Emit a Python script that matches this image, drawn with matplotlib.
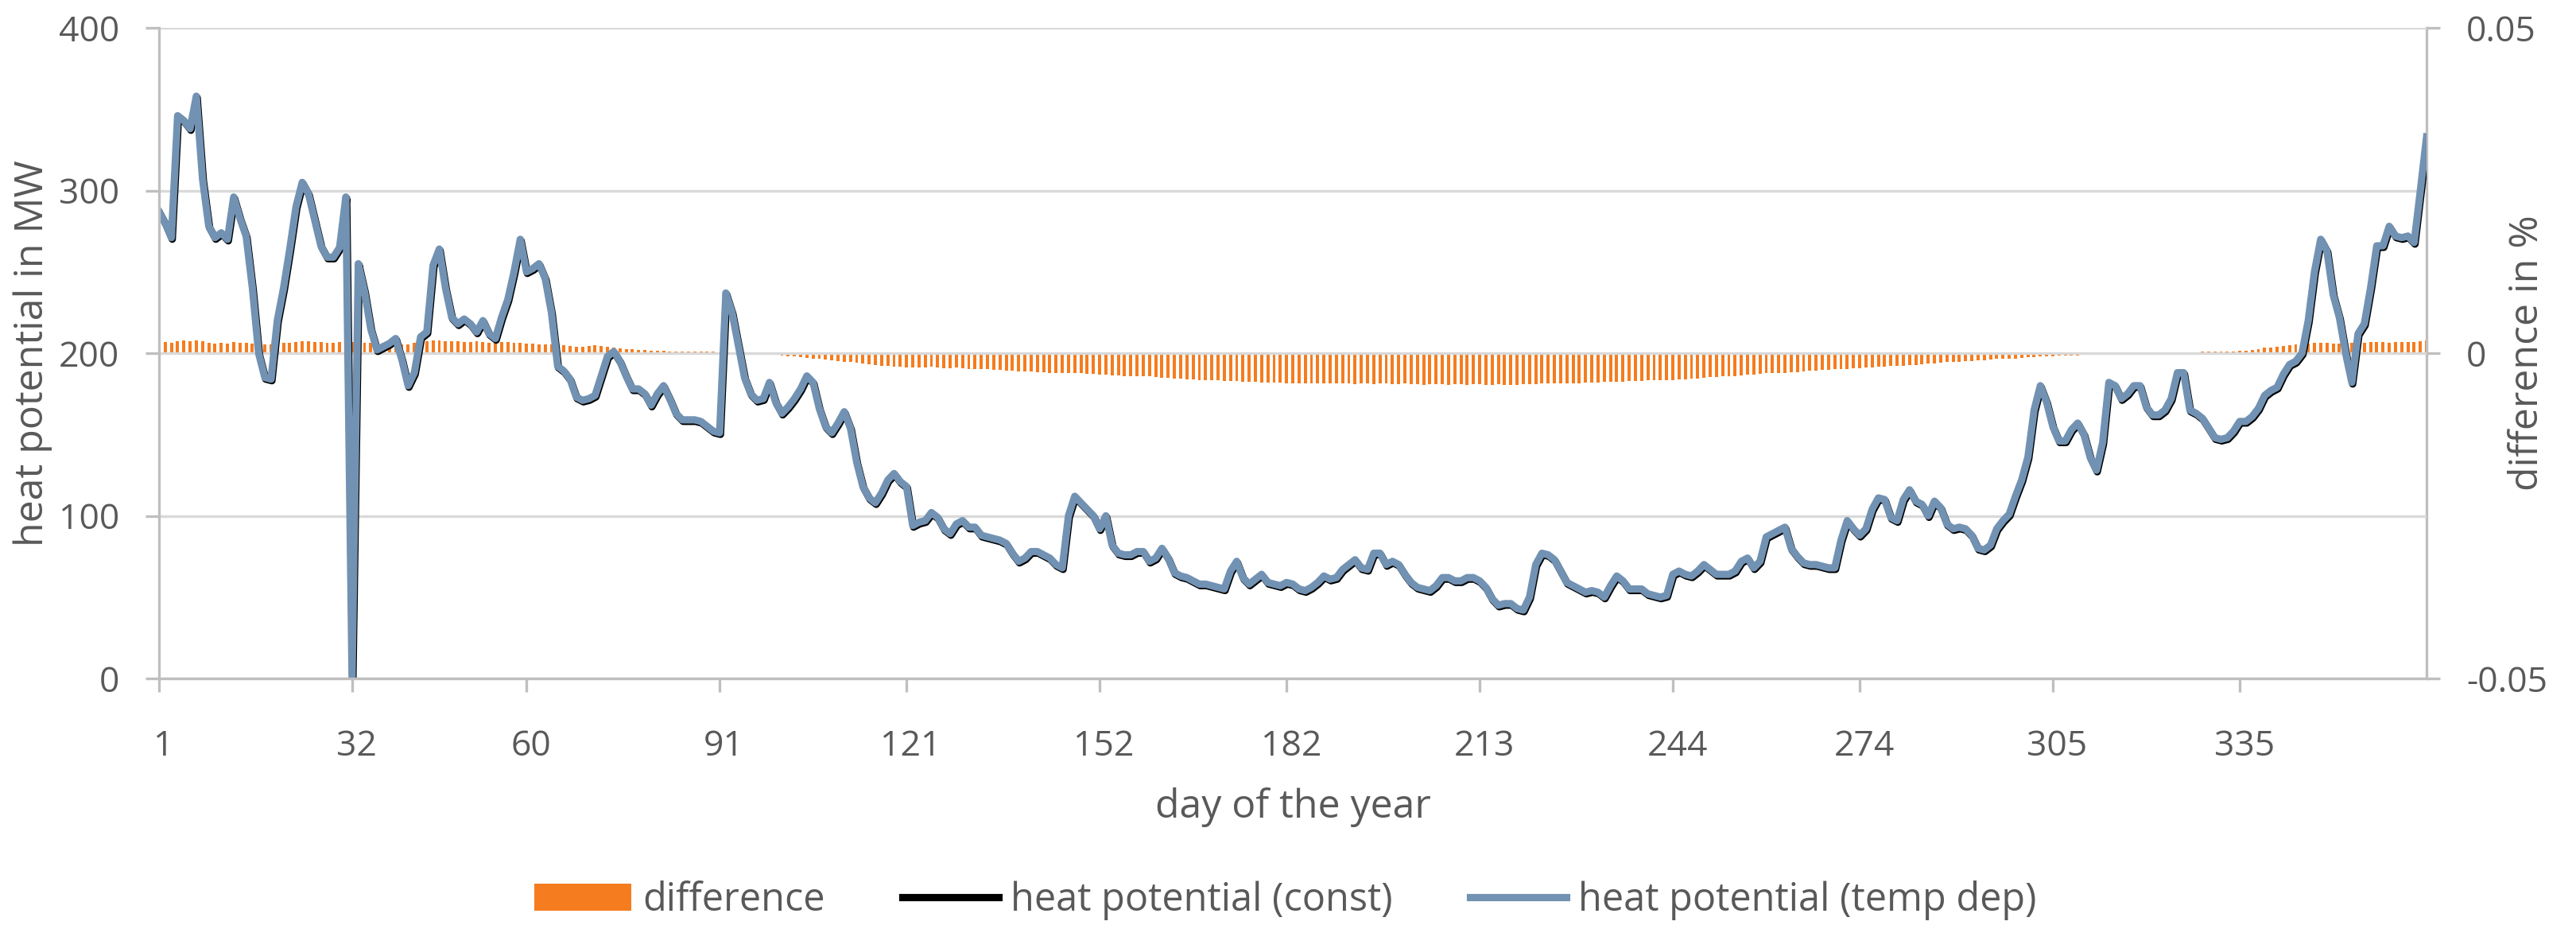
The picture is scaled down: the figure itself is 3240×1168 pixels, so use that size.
import matplotlib
matplotlib.use("Agg")
import matplotlib.pyplot as plt
from matplotlib.transforms import offset_copy, ScaledTranslation

# heat potential (temp dep) in MW
heat_jan = [287, 280, 271, 346, 343, 338, 358, 307, 278, 271, 274, 270, 296, 283, 272, 240,
            200, 185, 184, 220, 240, 264, 290, 305, 298, 282, 266, 259, 259, 265, 296]
heat_feb = [0, 255, 238, 215, 202, 204, 206, 209, 196, 180, 188, 210, 213, 254, 264, 240,
            222, 218, 221, 218, 213, 220, 212, 209, 222, 233, 250, 270]
heat_mar = [250, 252, 255, 246, 225, 192, 189, 184, 173, 171, 172, 174, 186, 198, 201, 195,
            186, 178, 178, 175, 168, 175, 180, 172, 163, 159, 159, 159, 158, 155, 152]
heat_apr = [151, 237, 225, 205, 185, 175, 171, 172, 182, 170, 163, 167, 172, 178, 186, 182,
            166, 155, 151, 157, 164, 154, 133, 118, 111, 108, 114, 122, 126, 121]
heat_may = [118, 94, 96, 97, 102, 99, 92, 89, 95, 97, 93, 93, 88, 87, 86, 85,
            83, 77, 72, 74, 78, 78, 76, 74, 70, 68, 100, 112, 108, 104, 100]
heat_jun = [92, 100, 82, 77, 76, 76, 78, 78, 72, 74, 80, 74, 65, 63, 62, 60,
            58, 58, 57, 56, 55, 66, 72, 62, 58, 61, 64, 59, 58, 57]
heat_jul = [59, 58, 55, 54, 56, 59, 63, 61, 62, 67, 70, 73, 68, 67, 77, 77,
            70, 72, 70, 64, 59, 56, 55, 54, 57, 62, 62, 60, 60, 62, 62]
heat_aug = [60, 56, 49, 45, 46, 46, 43, 42, 50, 70, 77, 76, 73, 66, 59, 57,
            55, 53, 54, 53, 50, 57, 63, 60, 55, 55, 55, 52, 51, 50, 51]
heat_sep = [64, 66, 64, 63, 66, 70, 67, 64, 64, 64, 66, 72, 74, 68, 72, 87,
            89, 91, 93, 80, 75, 71, 70, 70, 69, 68, 68, 85, 97, 92]
heat_oct = [88, 92, 104, 111, 110, 99, 97, 110, 116, 109, 107, 100, 109, 105, 95, 92,
            93, 92, 88, 80, 79, 82, 92, 97, 101, 112, 122, 136, 165, 180, 170]
heat_nov = [155, 146, 146, 153, 157, 150, 136, 128, 145, 182, 180, 172, 175, 180, 180, 167,
            162, 162, 165, 172, 188, 188, 165, 163, 160, 154, 148, 147, 148, 152]
heat_dec = [158, 158, 161, 166, 174, 177, 179, 187, 193, 195, 200, 220, 250, 270, 263, 236,
            222, 200, 182, 212, 218, 240, 266, 266, 278, 272, 271, 272, 268, 300, 333]

# difference in %
diff_jan = [0.0016, 0.0017, 0.0016, 0.0018, 0.0019, 0.0018, 0.0019, 0.0018, 0.0016, 0.0015,
            0.0016, 0.0015, 0.0017, 0.0016, 0.0016, 0.0015, 0.0014, 0.0013, 0.0014, 0.0015,
            0.0016, 0.0016, 0.0017, 0.0018, 0.0018, 0.0017, 0.0017, 0.0016, 0.0016, 0.0017, 0.0018]
diff_feb = [0.0017, 0.0017, 0.0016, 0.0016, 0.0015, 0.0016, 0.0016, 0.0015, 0.0014, 0.0014,
            0.0016, 0.0017, 0.0018, 0.0019, 0.0019, 0.0018, 0.0018, 0.0018, 0.0017, 0.0017,
            0.0018, 0.0017, 0.0016, 0.0016, 0.0017, 0.0017, 0.0016, 0.0016]
diff_mar = [0.0015, 0.0015, 0.0014, 0.0014, 0.0013, 0.0012, 0.0012, 0.0011, 0.0010, 0.0010,
            0.0011, 0.0012, 0.0011, 0.0010, 0.0008, 0.0007, 0.0006, 0.0006, 0.0005, 0.0005,
            0.0004, 0.0004, 0.0004, 0.0003, 0.0003, 0.0003, 0.0003, 0.0002, 0.0002, 0.0002, 0.0002]
diff_apr = [0.0001, 0.0001, 0.0000, 0.0000, -0.0001, -0.0001, -0.0002, -0.0002, -0.0003, -0.0003,
            -0.0004, -0.0005, -0.0005, -0.0006, -0.0007, -0.0008, -0.0009, -0.0010, -0.0011, -0.0012,
            -0.0013, -0.0014, -0.0015, -0.0016, -0.0017, -0.0018, -0.0019, -0.0020, -0.0021, -0.0021]
diff_may = [-0.0022, -0.0022, -0.0022, -0.0022, -0.0021, -0.0022, -0.0023, -0.0023, -0.0022, -0.0023,
            -0.0024, -0.0024, -0.0025, -0.0025, -0.0026, -0.0026, -0.0027, -0.0027, -0.0028, -0.0028,
            -0.0028, -0.0029, -0.0029, -0.0030, -0.0030, -0.0030, -0.0030, -0.0031, -0.0031, -0.0032, -0.0032]
diff_jun = [-0.0033, -0.0033, -0.0034, -0.0034, -0.0035, -0.0035, -0.0035, -0.0036, -0.0036, -0.0037,
            -0.0038, -0.0038, -0.0039, -0.0039, -0.0040, -0.0040, -0.0041, -0.0041, -0.0042, -0.0042,
            -0.0043, -0.0043, -0.0043, -0.0044, -0.0044, -0.0044, -0.0045, -0.0045, -0.0045, -0.0045]
diff_jul = [-0.0046, -0.0046, -0.0046, -0.0046, -0.0047, -0.0046, -0.0047, -0.0047, -0.0047, -0.0046,
            -0.0047, -0.0048, -0.0047, -0.0047, -0.0048, -0.0047, -0.0047, -0.0048, -0.0048, -0.0047,
            -0.0048, -0.0048, -0.0049, -0.0048, -0.0048, -0.0048, -0.0049, -0.0048, -0.0048, -0.0049, -0.0048]
diff_aug = [-0.0048, -0.0049, -0.0049, -0.0048, -0.0049, -0.0049, -0.0049, -0.0048, -0.0048, -0.0048,
            -0.0047, -0.0047, -0.0047, -0.0046, -0.0046, -0.0046, -0.0046, -0.0045, -0.0045, -0.0045,
            -0.0044, -0.0044, -0.0044, -0.0044, -0.0043, -0.0043, -0.0043, -0.0042, -0.0042, -0.0042, -0.0041]
diff_sep = [-0.0041, -0.0040, -0.0040, -0.0039, -0.0039, -0.0038, -0.0037, -0.0037, -0.0036, -0.0035,
            -0.0035, -0.0034, -0.0033, -0.0033, -0.0032, -0.0031, -0.0031, -0.0030, -0.0030, -0.0029,
            -0.0029, -0.0028, -0.0027, -0.0027, -0.0026, -0.0026, -0.0025, -0.0025, -0.0024, -0.0023]
diff_oct = [-0.0023, -0.0022, -0.0022, -0.0021, -0.0021, -0.0020, -0.0020, -0.0019, -0.0018, -0.0018,
            -0.0017, -0.0016, -0.0016, -0.0015, -0.0014, -0.0014, -0.0013, -0.0012, -0.0012, -0.0011,
            -0.0011, -0.0010, -0.0009, -0.0009, -0.0008, -0.0008, -0.0007, -0.0006, -0.0006, -0.0005, -0.0005]
diff_nov = [-0.0005, -0.0004, -0.0004, -0.0004, -0.0004, -0.0003, -0.0003, -0.0003, -0.0003, -0.0002,
            -0.0002, -0.0002, -0.0002, -0.0001, -0.0001, -0.0001, -0.0001, 0.0000, 0.0000, 0.0000,
            0.0001, 0.0001, 0.0001, 0.0001, 0.0002, 0.0002, 0.0002, 0.0003, 0.0003, 0.0003]
diff_dec = [0.0004, 0.0004, 0.0005, 0.0006, 0.0008, 0.0009, 0.0010, 0.0011, 0.0012, 0.0013,
            0.0014, 0.0015, 0.0016, 0.0016, 0.0016, 0.0015, 0.0015, 0.0016, 0.0016, 0.0017,
            0.0016, 0.0017, 0.0017, 0.0017, 0.0016, 0.0017, 0.0017, 0.0017, 0.0017, 0.0018, 0.0020]

heat_temp = (heat_jan + heat_feb + heat_mar + heat_apr + heat_may + heat_jun +
             heat_jul + heat_aug + heat_sep + heat_oct + heat_nov + heat_dec)
# the const curve sits right under the temp dep curve, they can't be told apart
heat_const = list(heat_temp)
difference = (diff_jan + diff_feb + diff_mar + diff_apr + diff_may + diff_jun +
              diff_jul + diff_aug + diff_sep + diff_oct + diff_nov + diff_dec)
days = list(range(1, len(heat_temp) + 1))

month_ticks = [1, 32, 60, 91, 121, 152, 182, 213, 244, 274, 305, 335]

text_col = "#595959"
axis_col = "#BFBFBF"
orange = "#F57C1F"
blue = "#7292B3"

plt.rcParams["font.family"] = ["Open Sans", "DejaVu Sans"]

fig = plt.figure(figsize=(16.2, 5.84), dpi=200)
ax = fig.add_axes([0.0617, 0.2697, 0.8803, 0.7003])
ax2 = ax.twinx()

# bars on the right axis
bars = ax2.bar(days, difference, width=0.5, color=orange, linewidth=0, label="difference")
ax2.set_ylim(-0.05, 0.05)
ax2.set_yticks([-0.05, 0, 0.05])
ax2.set_yticklabels(["-0.05", "0", "0.05"])

# lines on the left axis, drawn above the bars
shadow = offset_copy(ax.transData, fig=fig, x=0.4, y=-0.7, units="points")
l1, = ax.plot(days, heat_const, color="black", lw=3.3, transform=shadow,
              solid_joinstyle="round", label="heat potential (const)")
l2, = ax.plot(days, heat_temp, color=blue, lw=3.3, solid_joinstyle="round",
              label="heat potential (temp dep)")
ax.set_zorder(ax2.get_zorder() + 1)
ax.patch.set_visible(False)

ax.set_xlim(1, 365)
ax.set_ylim(0, 400)
ax.set_yticks([0, 100, 200, 300, 400])
ax.set_xticks(month_ticks)
ax.yaxis.grid(True, color="#D9D9D9", lw=1.2)
ax.set_axisbelow(True)

for s in ["top", "right"]:
    ax.spines[s].set_visible(False)
for s in ["left", "bottom"]:
    ax.spines[s].set_color(axis_col)
    ax.spines[s].set_linewidth(1.2)
for s in ["top", "left", "bottom"]:
    ax2.spines[s].set_visible(False)
ax2.spines["right"].set_color(axis_col)
ax2.spines["right"].set_linewidth(1.2)

ax.tick_params(axis="x", direction="out", length=6, width=1.2, color=axis_col,
               labelsize=16, labelcolor=text_col, pad=17)
ax.tick_params(axis="y", direction="out", length=6, width=1.2, color=axis_col,
               labelsize=16, labelcolor=text_col, pad=12)
ax2.tick_params(axis="y", direction="out", length=6, width=1.2, color=axis_col,
                labelsize=16, labelcolor=text_col, pad=12)

# Excel puts the day labels a hair right of their ticks
nudge = ScaledTranslation(2 / 72, 0, fig.dpi_scale_trans)
for lab in ax.get_xticklabels():
    lab.set_transform(lab.get_transform() + nudge)

ax.set_xlabel("day of the year", fontsize=18, color=text_col)
ax.set_ylabel("heat potential in MW", fontsize=18, color=text_col)
ax2.set_ylabel("difference in %", fontsize=18, color=text_col)
ax.xaxis.set_label_coords(0.5, -0.168)
ax.yaxis.set_label_coords(-0.047, 0.5)
ax2.yaxis.set_label_coords(1.036, 0.5)

fig.legend([bars, l1, l2], ["difference", "heat potential (const)", "heat potential (temp dep)"],
           loc="center", bbox_to_anchor=(0.499, 0.031), ncol=3, frameon=False,
           fontsize=17.5, labelcolor=text_col, handlelength=2.5, handletextpad=0.3,
           columnspacing=2.0)

fig.savefig("out.png", dpi=200)
